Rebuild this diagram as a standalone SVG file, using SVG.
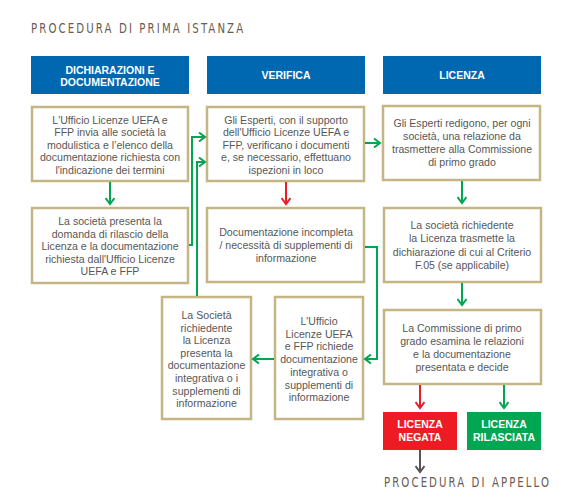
<svg xmlns="http://www.w3.org/2000/svg" width="586" height="503" viewBox="0 0 586 503">
<defs>
<style>
.hdr{fill:#0068b0}
.box{fill:#fff;stroke:#c5b585;stroke-width:2.5}
.t{font-family:"Liberation Sans",Arial,sans-serif;font-size:10.6px;fill:#575757;text-anchor:middle}
.h{font-family:"Liberation Sans",Arial,sans-serif;font-size:10.5px;font-weight:bold;fill:#fff;text-anchor:middle}
.ttl{font-family:"DejaVu Sans Condensed","DejaVu Sans",sans-serif;font-size:14.5px;fill:#6b5b50}
.g{fill:none;stroke:#00a651;stroke-width:2}
.r{fill:none;stroke:#ed1c24;stroke-width:2}
.k{fill:none;stroke:#555;stroke-width:2}
</style>
<marker id="mg" viewBox="0 0 10 10" refX="8" refY="5" markerWidth="10" markerHeight="10" markerUnits="userSpaceOnUse" orient="auto"><path d="M2,0.5 L8,5 L2,9.5" fill="none" stroke="#00a651" stroke-width="2"/></marker>
<marker id="mr" viewBox="0 0 10 10" refX="8" refY="5" markerWidth="10" markerHeight="10" markerUnits="userSpaceOnUse" orient="auto"><path d="M2,0.5 L8,5 L2,9.5" fill="none" stroke="#ed1c24" stroke-width="2"/></marker>
<marker id="mk" viewBox="0 0 10 10" refX="8" refY="5" markerWidth="10" markerHeight="10" markerUnits="userSpaceOnUse" orient="auto"><path d="M2,0.5 L8,5 L2,9.5" fill="none" stroke="#555" stroke-width="2"/></marker>
</defs>
<rect width="586" height="503" fill="#fff"/>
<text class="ttl" transform="translate(31,33) scale(0.78,1)" x="0" y="0" textLength="272" lengthAdjust="spacing">PROCEDURA DI PRIMA ISTANZA</text>

<g id="hdr-dich"><rect class="hdr" x="31" y="56" width="158" height="38"/><text class="h" x="110" y="74">DICHIARAZIONI E</text><text class="h" x="110" y="86">DOCUMENTAZIONE</text></g>
<g id="hdr-ver"><rect class="hdr" x="207" y="56" width="158" height="38"/><text class="h" x="286" y="79">VERIFICA</text></g>
<g id="hdr-lic"><rect class="hdr" x="383" y="56" width="158" height="38"/><text class="h" x="462" y="79">LICENZA</text></g>

<g id="n-invio"><rect class="box" x="32" y="107" width="156" height="74"/>
<text class="t" x="110" y="123.5">L'Ufficio Licenze UEFA e</text><text class="t" x="110" y="136">FFP invia alle società la</text><text class="t" x="110" y="148.5">modulistica e l’elenco della</text><text class="t" x="110" y="161">documentazione richiesta con</text><text class="t" x="110" y="173.5">l'indicazione dei termini</text></g>

<g id="n-domanda"><rect class="box" x="32" y="208" width="156" height="75"/>
<text class="t" x="110" y="225">La società presenta la</text><text class="t" x="110" y="237.5">domanda di rilascio della</text><text class="t" x="110" y="250">Licenza e la documentazione</text><text class="t" x="110" y="262.5">richiesta dall'Ufficio Licenze</text><text class="t" x="110" y="275">UEFA e FFP</text></g>

<g id="n-esperti"><rect class="box" x="207" y="107" width="157" height="74"/>
<text class="t" x="286" y="123.5">Gli Esperti, con il supporto</text><text class="t" x="286" y="136">dell'Ufficio Licenze UEFA e</text><text class="t" x="286" y="148.5">FFP, verificano i documenti</text><text class="t" x="286" y="161">e, se necessario, effettuano</text><text class="t" x="286" y="173.5">ispezioni in loco</text></g>

<g id="n-incompleta"><rect class="box" x="207" y="208" width="157" height="74"/>
<text class="t" x="286" y="236">Documentazione incompleta</text><text class="t" x="286" y="249">/ necessità di supplementi di</text><text class="t" x="286" y="262">informazione</text></g>

<g id="n-relazione"><rect class="box" x="383" y="106" width="157" height="74"/>
<text class="t" x="462" y="127">Gli Esperti redigono, per ogni</text><text class="t" x="462" y="140">società, una relazione da</text><text class="t" x="462" y="153">trasmettere alla Commissione</text><text class="t" x="462" y="166">di primo grado</text></g>

<g id="n-dichiarazione"><rect class="box" x="384" y="208" width="157" height="74"/>
<text class="t" x="462" y="229">La società richiedente</text><text class="t" x="462" y="242">la Licenza trasmette la</text><text class="t" x="462" y="255.5">dichiarazione di cui al Criterio</text><text class="t" x="462" y="269">F.05 (se applicabile)</text></g>

<g id="n-commissione"><rect class="box" x="384" y="310" width="157" height="74"/>
<text class="t" x="462" y="332">La Commissione di primo</text><text class="t" x="462" y="345">grado esamina le relazioni</text><text class="t" x="462" y="358">e la documentazione</text><text class="t" x="462" y="371">presentata e decide</text></g>

<g id="n-societa"><rect class="box" x="162" y="297" width="89" height="122"/>
<text class="t" x="206.5" y="319">La Società</text><text class="t" x="206.5" y="331.6">richiedente</text><text class="t" x="206.5" y="344.2">la Licenza</text><text class="t" x="206.5" y="356.8">presenta la</text><text class="t" x="206.5" y="369.4">documentazione</text><text class="t" x="206.5" y="382">integrativa o i</text><text class="t" x="206.5" y="394.6">supplementi di</text><text class="t" x="206.5" y="407.2">informazione</text></g>

<g id="n-ufficio"><rect class="box" x="275" y="297" width="88" height="122"/>
<text class="t" x="319" y="325">L'Ufficio</text><text class="t" x="319" y="337.7">Licenze UEFA</text><text class="t" x="319" y="350.4">e FFP richiede</text><text class="t" x="319" y="363.1">documentazione</text><text class="t" x="319" y="375.8">integrativa o</text><text class="t" x="319" y="388.5">supplementi di</text><text class="t" x="319" y="401.2">informazione</text></g>

<g id="n-negata"><rect x="383" y="412" width="74" height="38" fill="#ed1c24"/><text class="h" x="420" y="428">LICENZA</text><text class="h" x="420" y="441">NEGATA</text></g>
<g id="n-rilasciata"><rect x="467" y="412" width="74" height="38" fill="#00a651"/><text class="h" x="504" y="428">LICENZA</text><text class="h" x="504" y="441">RILASCIATA</text></g>

<g id="n-appello"><text class="ttl" transform="translate(384,487) scale(0.78,1)" x="0" y="0" textLength="211.5" lengthAdjust="spacing">PROCEDURA DI APPELLO</text></g>

<g id="connectors">
<path class="g" d="M110,182 V204" marker-end="url(#mg)"/>
<path class="g" d="M189,245 H192 V137 H205" marker-end="url(#mg)"/>
<path class="g" d="M197,296 V162 H205" marker-end="url(#mg)"/>
<path class="g" d="M365,143 H380" marker-end="url(#mg)"/>
<path class="r" d="M286,182 V204" marker-end="url(#mr)"/>
<path class="g" d="M365,247 H377 V359 H365" marker-end="url(#mg)"/>
<path class="g" d="M274,359 H253" marker-end="url(#mg)"/>
<path class="g" d="M462,181 V203" marker-end="url(#mg)"/>
<path class="g" d="M462,283 V305" marker-end="url(#mg)"/>
<path class="r" d="M420,385 V408" marker-end="url(#mr)"/>
<path class="g" d="M504,385 V408" marker-end="url(#mg)"/>
<path class="k" d="M420,450 V472" marker-end="url(#mk)"/>
</g>
</svg>
